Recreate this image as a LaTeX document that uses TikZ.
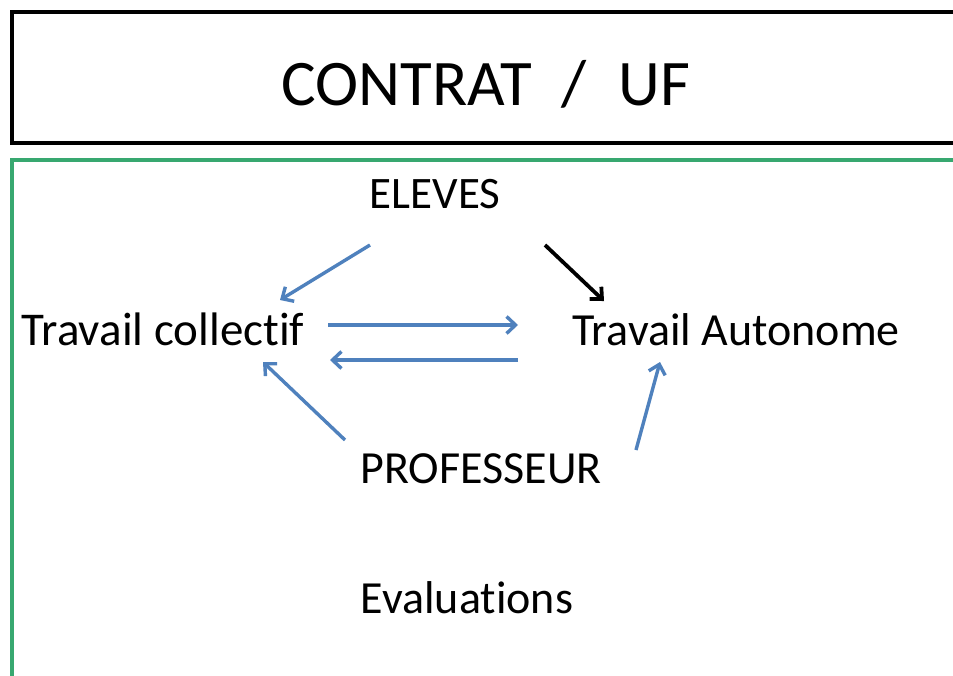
\documentclass[tikz,border=0pt]{standalone}
\usepackage{fontspec}
\setmainfont{Carlito}[Ligatures=NoCommon]
\usetikzlibrary{arrows.meta}
\definecolor{frgreen}{RGB}{56,168,112}
\definecolor{arblue}{RGB}{79,129,189}
\tikzset{
  lbl/.style={inner sep=0pt, anchor=base, font=\fontsize{46}{50}\selectfont},
  arr/.style={draw=arblue, line width=3.4pt, -{Straight Barb[length=9pt,width=17pt,line width=3.4pt]}},
  arrk/.style={draw=black, line width=3.8pt, -{Straight Barb[length=9pt,width=17pt,line width=3.8pt]}}
}
\begin{document}
\begin{tikzpicture}[x=1pt,y=-1pt]
\useasboundingbox (0,0) rectangle (953,675);
\clip (0,0) rectangle (953,675);
\fill[white] (0,0) rectangle (953,675);
\draw[line width=4pt] (12,12) rectangle (970,143);
\draw[frgreen, line width=4pt] (12,160) rectangle (970,690);
\node[lbl, font=\fontsize{65}{70}\selectfont] (title) at (486,105) {CONTRAT\hspace{0.45em}/\hspace{0.5em}UF};
\node[lbl, font=\fontsize{45}{50}\selectfont] (eleves) at (435,208) {ELEVES};
\node[lbl, font=\fontsize{47}{50}\selectfont] (coll) at (163,345) {Travail collectif};
\node[lbl] (auto) at (736,345) {Travail Autonome};
\node[lbl] (prof) at (481,483) {PROFESSEUR};
\node[lbl] (eval) at (467,613) {Evaluations};
\coordinate (e1) at (370,245);
\coordinate (c1) at (280,300);
\coordinate (e2) at (545,245);
\coordinate (a2) at (604,301);
\coordinate (c3) at (328,325);
\coordinate (a3) at (518,325);
\coordinate (a4) at (518,360);
\coordinate (c4) at (330,360);
\coordinate (p5) at (345,440);
\coordinate (c5) at (263,362);
\coordinate (p6) at (636,450);
\coordinate (a6) at (660,362);
\draw[arr] (e1) -- (c1);
\draw[arrk] (e2) -- (a2);
\draw[arr] (c3) -- (a3);
\draw[arr] (a4) -- (c4);
\draw[arr] (p5) -- (c5);
\draw[arr] (p6) -- (a6);
\end{tikzpicture}
\end{document}
